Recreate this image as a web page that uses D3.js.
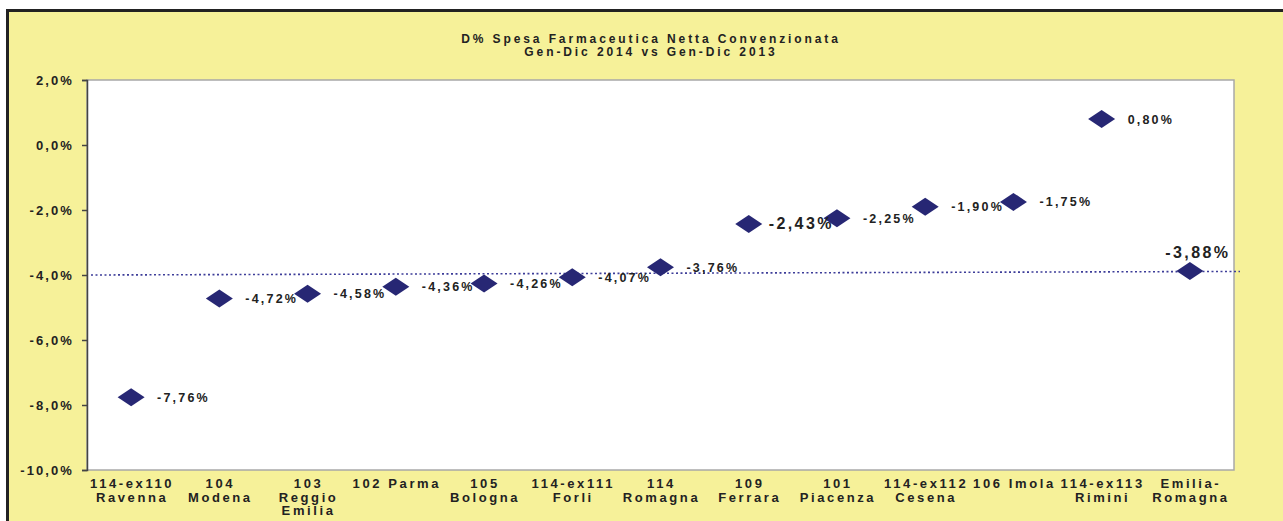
<!doctype html>
<html>
<head>
<meta charset="utf-8">
<script src="https://d3js.org/d3.v7.min.js"></script>
<style>
  body { margin: 0; background: #ffffff; }
  text { font-family: "Liberation Sans", Arial, sans-serif; }
</style>
</head>
<body>
<svg width="1283" height="521"></svg>
<script>
// categories (one entry per line of the tick label)
var categories = [
  ["114-ex110", "Ravenna"],
  ["104", "Modena"],
  ["103", "Reggio", "Emilia"],
  ["102 Parma"],
  ["105", "Bologna"],
  ["114-ex111", "Forli"],
  ["114", "Romagna"],
  ["109", "Ferrara"],
  ["101", "Piacenza"],
  ["114-ex112", "Cesena"],
  ["106 Imola"],
  ["114-ex113", "Rimini"],
  ["Emilia-", "Romagna"]
];
var values = [-7.76, -4.72, -4.58, -4.36, -4.26, -4.07, -3.76, -2.43, -2.25, -1.90, -1.75, 0.80, -3.88];
var yTicks = [2, 0, -2, -4, -6, -8, -10];
// dotted reference line (start value, end value)
var refLine = [-4.0, -3.89];

var svg = d3.select("svg");
var bg = "#f6f199";

// italian style numbers: comma decimal, plain hyphen for minus
var it = d3.formatLocale({decimal: ",", thousands: ".", grouping: [3], currency: ["", "€"], minus: "-"});

svg.append("rect")
   .attr("x", 7.5).attr("y", 10.5)
   .attr("width", 1300).attr("height", 530)
   .attr("fill", bg)
   .attr("stroke", "#222").attr("stroke-width", 3);

var pLeft = 87, pRight = 1234, pTop = 80, pBottom = 470;

var x = d3.scaleBand()
    .domain(d3.range(categories.length))
    .range([pLeft, pRight]);
var y = d3.scaleLinear()
    .domain([-10, 2])
    .range([pBottom, pTop]);

// plot area
svg.append("rect")
   .attr("x", pLeft).attr("y", pTop)
   .attr("width", pRight - pLeft).attr("height", pBottom - pTop)
   .attr("fill", "#fff")
   .attr("stroke", "#a8a8a8").attr("stroke-width", 1.5);

// title
var title = svg.append("text")
   .attr("text-anchor", "middle")
   .attr("font-size", "12px").attr("font-weight", "bold")
   .attr("letter-spacing", "2.9px").attr("fill", "#222");
title.append("tspan").attr("x", 651).attr("y", 43).text("D% Spesa Farmaceutica Netta Convenzionata");
title.append("tspan").attr("x", 651).attr("y", 56).text("Gen-Dic 2014 vs Gen-Dic 2013");

// y axis
var yAxis = svg.append("g")
   .attr("transform", "translate(" + pLeft + ",0)")
   .call(d3.axisLeft(y).tickValues(yTicks).tickSize(5).tickPadding(8)
         .tickFormat(function(d) { return it.format(".1f")(d) + "%"; }));
yAxis.select(".domain").attr("stroke", "#444").attr("stroke-width", 1.5);
yAxis.selectAll(".tick line").attr("stroke", "#444").attr("stroke-width", 1.5);
yAxis.selectAll("text")
   .attr("font-size", "13px").attr("font-weight", "bold")
   .attr("letter-spacing", "2.1px").attr("fill", "#222")
   .style("font-family", "'Liberation Sans', Arial, sans-serif");

// x axis labels
var xl = svg.append("g").selectAll("text")
   .data(categories).enter().append("text")
   .attr("text-anchor", "middle")
   .attr("font-size", "13px").attr("font-weight", "bold")
   .attr("letter-spacing", "2.6px").attr("fill", "#222");
xl.each(function(lines, i) {
  var t = d3.select(this);
  lines.forEach(function(s, j) {
    t.append("tspan")
     .attr("x", x(i) + x.bandwidth() / 2 + 1)
     .attr("y", 488 + j * 13.7)
     .text(s);
  });
});

// reference line
svg.append("line")
   .attr("x1", pLeft + 4).attr("x2", pRight + 6)
   .attr("y1", y(refLine[0])).attr("y2", y(refLine[1]))
   .attr("stroke", "#3d3d99").attr("stroke-width", 1.6)
   .attr("stroke-dasharray", "2,2.5");

// markers
svg.append("g").selectAll("path")
   .data(values).enter().append("path")
   .attr("transform", function(d, i) {
     return "translate(" + (x(i) + x.bandwidth() / 2) + "," + y(d) + ")";
   })
   .attr("d", "M-13.5,0L0,-9L13.5,0L0,9Z")
   .attr("fill", "#272774");

// data labels
var last = values.length - 1;
var fmt = function(d) { return it.format(".2f")(d) + "%"; };
svg.append("g").selectAll("text")
   .data(values).enter().append("text")
   .attr("x", function(d, i) {
     var cx = x(i) + x.bandwidth() / 2;
     if (i === last) return cx + 8;
     if (i === 7) return cx + 20;
     return cx + 26;
   })
   .attr("y", function(d, i) {
     if (i === last) return y(d) - 13;
     if (i === 7) return y(d) + 5.5;
     return y(d) + 4.5;
   })
   .attr("text-anchor", function(d, i) { return i === last ? "middle" : "start"; })
   .attr("font-size", function(d, i) { return (i === 7 || i === last) ? "16px" : "12.5px"; })
   .attr("font-weight", "bold")
   .attr("letter-spacing", function(d, i) { return (i === 7 || i === last) ? "2.4px" : "2.2px"; })
   .attr("fill", "#222")
   .text(fmt);
</script>
</body>
</html>
